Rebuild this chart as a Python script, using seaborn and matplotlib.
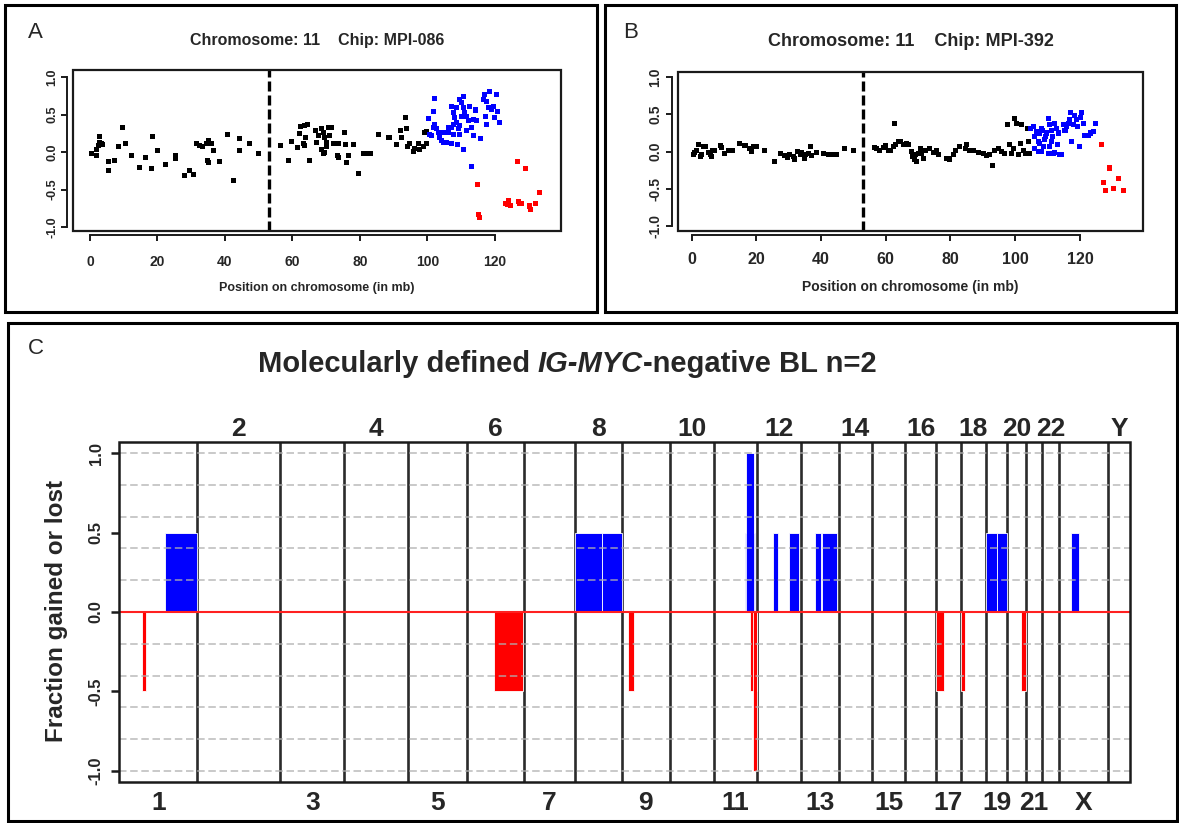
import matplotlib
matplotlib.use("Agg")
import matplotlib.pyplot as plt
import matplotlib.transforms as mtransforms
from matplotlib.patches import Rectangle
import numpy as np
import pandas as pd
import seaborn as sns

# ---------------- Panel A : chromosome 11, chip MPI-086 ----------------
a_neutral_pos = [0.5, 2.0, 2.5, 2.8, 3.3, 3.8, 2.7, 2.0, 5.6, 5.6,
                 7.4, 8.6, 9.6, 10.4, 12.3, 14.8, 16.6, 18.3, 18.6, 20.0,
                 22.4, 25.3, 25.3, 27.9, 29.4, 30.6, 31.6, 32.6, 33.4, 34.4,
                 35.1, 36.0, 36.5, 34.8, 35.1, 38.3, 40.8, 42.5, 44.4, 44.2,
                 47.2, 49.9, 56.5, 58.8, 59.8, 61.4, 62.2, 62.4, 63.7, 64.4,
                 64.0, 63.2, 63.7, 65.2, 66.7, 67.7, 67.2, 68.6, 69.1, 69.6,
                 70.1, 68.6, 69.6, 70.6, 71.6, 71.1, 70.1, 69.1, 72.1, 73.6,
                 73.3, 73.6, 75.4, 75.6, 75.9, 76.5, 78.0, 79.7, 81.0, 82.5,
                 83.2, 85.4, 88.4, 88.9, 90.9, 91.9, 92.3, 93.6, 93.8, 94.0,
                 94.8, 96.3, 96.0, 97.3, 97.8, 98.8, 99.6, 99.0, 99.8]
a_neutral_val = [-0.02, -0.04, 0.09, 0.13, 0.11, 0.10, 0.21, 0.04, -0.13, -0.24,
                 -0.11, 0.07, 0.33, 0.12, -0.04, -0.21, -0.07, -0.22, 0.21, 0.02,
                 -0.16, -0.08, -0.05, -0.31, -0.25, -0.30, 0.11, 0.09, 0.07, 0.11,
                 0.15, 0.12, 0.02, -0.11, -0.14, -0.13, 0.23, -0.38, 0.18, 0.02,
                 0.12, -0.02, 0.09, -0.11, 0.14, 0.06, 0.25, 0.34, 0.35, 0.37,
                 0.20, 0.11, 0.09, -0.11, 0.29, 0.22, 0.13, 0.31, 0.26, 0.20,
                 0.13, 0.04, 0.00, 0.33, 0.33, 0.22, 0.07, -0.02, 0.12, 0.12,
                 -0.04, -0.07, 0.26, 0.10, -0.14, -0.04, 0.10, -0.28, -0.02, -0.02,
                 -0.02, 0.23, 0.20, 0.19, 0.10, 0.29, 0.20, 0.46, 0.31, 0.07,
                 0.12, 0.05, 0.01, 0.12, 0.04, 0.08, 0.11, 0.26, 0.27]
a_gain_pos = [102.0, 101.7, 100.4, 102.1, 101.7, 102.7, 100.7, 101.2, 103.2, 103.7,
              104.2, 104.7, 105.7, 107.2, 109.0, 110.8, 106.2, 107.2, 107.7, 108.1,
              108.6, 109.1, 109.6, 107.7, 107.2, 109.6, 110.1, 110.6, 110.8, 111.1,
              111.6, 112.1, 111.6, 113.1, 113.8, 114.6, 114.4, 115.6, 113.6, 116.5,
              117.0, 117.5, 118.0, 118.5, 119.0, 119.5, 120.0, 120.5, 120.8, 121.5,
              117.3, 117.5, 113.1, 107.7, 108.6, 110.1, 106.2, 109.4, 104.7, 112.6,
              114.3]
a_gain_val = [0.71, 0.54, 0.45, 0.37, 0.33, 0.31, 0.24, 0.22, 0.26, 0.20,
              0.15, 0.13, 0.13, 0.11, 0.10, 0.04, 0.26, 0.33, 0.37, 0.46,
              0.39, 0.31, 0.24, 0.24, 0.61, 0.70, 0.66, 0.74, 0.59, 0.53,
              0.48, 0.42, 0.29, 0.33, 0.44, 0.42, 0.57, 0.18, 0.22, 0.70,
              0.77, 0.68, 0.59, 0.81, 0.57, 0.61, 0.46, 0.77, 0.54, 0.39,
              0.48, 0.37, -0.19, 0.53, 0.59, 0.48, 0.33, 0.35, 0.26, 0.61,
              0.55]
a_loss_pos = [114.9, 115.4, 123.2, 124.1, 124.7, 127.1, 127.9, 130.2, 130.6, 131.9,
              133.3, 126.6, 129.2, 123.7, 127.4, 115.2]
a_loss_val = [-0.43, -0.88, -0.68, -0.64, -0.71, -0.66, -0.68, -0.72, -0.77, -0.68,
              -0.54, -0.13, -0.22, -0.70, -0.69, -0.84]

# ---------------- Panel B : chromosome 11, chip MPI-392 ----------------
b_neutral_pos = [0.5, 1.0, 1.5, 2.1, 2.6, 3.1, 3.6, 4.3, 5.2, 5.7,
                 6.0, 6.4, 7.2, 8.8, 9.3, 10.3, 11.3, 12.6, 14.9, 16.5,
                 18.0, 18.5, 19.1, 20.1, 22.5, 25.5, 27.6, 28.8, 29.7, 30.4,
                 31.4, 31.9, 32.8, 33.5, 34.0, 34.8, 35.2, 36.1, 36.6, 37.1,
                 38.6, 40.7, 42.4, 43.8, 44.8, 47.4, 50.0, 56.4, 57.2, 58.2,
                 59.2, 60.0, 60.8, 61.6, 62.3, 62.6, 63.0, 63.9, 64.7, 65.4,
                 66.4, 67.0, 68.0, 68.5, 69.0, 69.5, 70.0, 70.6, 68.2, 69.2, 68.8,
                 71.1, 71.6, 72.4, 73.6, 74.7, 75.7, 76.2, 78.8, 79.8, 80.9,
                 81.7, 82.9, 84.5, 85.0, 86.0, 87.0, 88.6, 90.2, 91.2, 92.2,
                 93.0, 93.7, 94.8, 95.8, 96.8, 97.6, 98.4, 98.9, 99.4, 99.9,
                 100.4, 101.5, 101.0, 102.0, 102.5, 103.3, 104.0, 103.7, 104.4]
b_neutral_val = [-0.04, -0.01, 0.01, 0.09, -0.07, -0.04, 0.07, 0.07, -0.01, -0.04,
                 -0.07, 0.02, 0.02, 0.08, 0.05, -0.02, 0.02, 0.02, 0.11, 0.08,
                 0.04, 0.00, 0.07, 0.07, 0.01, -0.14, -0.02, -0.05, -0.08, -0.04,
                 -0.07, -0.10, 0.00, -0.04, -0.01, -0.09, -0.04, -0.02, 0.07, -0.05,
                 -0.01, -0.02, -0.04, -0.04, -0.04, 0.04, 0.02, 0.05, 0.04, 0.02,
                 0.05, 0.08, 0.02, 0.01, 0.07, 0.38, 0.10, 0.13, 0.13, 0.09,
                 0.11, 0.09, 0.00, -0.04, -0.09, -0.13, -0.02, 0.04, -0.07, -0.04, -0.11,
                 -0.02, -0.09, 0.01, 0.04, -0.01, 0.02, -0.04, -0.09, -0.10, -0.04,
                 0.01, 0.07, 0.04, 0.10, 0.02, 0.02, -0.01, -0.02, -0.05, -0.04,
                 -0.19, 0.02, 0.04, 0.00, -0.02, 0.37, 0.09, -0.02, 0.04, 0.45,
                 0.38, 0.11, -0.04, 0.37, 0.01, -0.02, 0.13, 0.31, -0.02]
b_gain_pos = [104.6, 105.6, 106.1, 106.6, 107.1, 107.1, 107.6, 108.2, 108.7, 109.2,
              109.7, 110.2, 110.5, 110.6, 111.2, 111.5, 111.8, 112.3, 112.8, 113.0,
              113.3, 113.8, 114.3, 114.8, 115.4, 115.9, 116.4, 116.9, 117.1, 117.4,
              117.9, 118.4, 118.9, 119.4, 119.8, 120.2, 120.5, 121.0, 121.5, 122.6,
              123.3, 124.1, 124.9, 106.1, 108.2, 110.2, 112.3, 107.6, 109.5, 111.1,
              108.5]
b_gain_val = [0.31, 0.34, 0.20, 0.27, 0.13, 0.00, 0.25, 0.31, 0.07, 0.16,
              0.25, 0.45, 0.36, 0.07, 0.29, 0.20, -0.02, 0.38, 0.31, 0.09,
              0.25, -0.04, -0.04, 0.36, 0.29, 0.34, 0.38, 0.43, 0.52, 0.14,
              0.37, 0.49, 0.43, 0.34, 0.07, 0.46, 0.52, 0.38, 0.22, 0.22,
              0.25, 0.27, 0.38, 0.04, 0.00, -0.02, -0.01, 0.11, 0.20, 0.14,
              0.28]
b_loss_pos = [126.8, 129.1, 131.9, 127.4, 127.8, 130.4, 133.4, 129.3]
b_loss_val = [0.09, -0.22, -0.36, -0.41, -0.53, -0.50, -0.53, -0.23]

centromere_mb = 53.0
pos_ticks = [0, 20, 40, 60, 80, 100, 120]
ratio_ticks = [1.0, 0.5, 0.0, -0.5, -1.0]
ratio_tick_labels = ["1.0", "0.5", "0.0", "-0.5", "-1.0"]

# ---------------- Panel C : genome-wide gains / losses ----------------
chrom_names = ["1", "2", "3", "4", "5", "6", "7", "8", "9", "10", "11", "12",
               "13", "14", "15", "16", "17", "18", "19", "20", "21", "22", "X", "Y"]
chrom_len_mb = [239, 252, 196, 193, 182, 171, 156, 144, 145, 134, 132, 134,
                115, 102, 101, 94, 75, 77, 65, 56, 50, 52, 150, 66]

gain_chrom = ["1", "8", "8", "11", "11", "12", "12", "13", "13", "19", "19", "X"]
gain_start = [140, 0, 83, 94.5, 99.6, 48.7, 96.3, 43.6, 63.4, 0, 32.5, 37.5]
gain_end = [239, 83, 144, 127, 121.9, 64.9, 129.8, 60.3, 111.5, 32.5, 65, 60]
gain_frac = [0.5, 0.5, 0.5, 0.5, 1.0, 0.5, 0.5, 0.5, 0.5, 0.5, 0.5, 0.5]

loss_chrom = ["1", "6", "9", "11", "11", "17", "18", "20"]
loss_start = [71, 81, 18, 109.7, 118.8, 0, 0, 42.7]
loss_end = [82, 169, 37.5, 132, 132, 24, 12, 56]
loss_frac = [-0.5, -0.5, -0.5, -0.5, -1.0, -0.5, -0.5, -0.5]

frac_ticks = [1.0, 0.5, 0.0, -0.5, -1.0]
frac_tick_labels = ["1.0", "0.5", "0.0", "-0.5", "-1.0"]
grid_levels = [1.0, 0.8, 0.6, 0.4, 0.2, -0.2, -0.4, -0.6, -0.8, -1.0]

# ---------------------------------------------------------------------
sns.set_style("white")
plt.rcParams["font.family"] = ["Liberation Sans", "DejaVu Sans"]

W, H = 1179, 823
fig = plt.figure(figsize=(W / 100, H / 100), dpi=100)
fig.patch.set_facecolor("white")


def px_axes(x0, y0, x1, y1):
    return fig.add_axes([x0 / W, 1 - y1 / H, (x1 - x0) / W, (y1 - y0) / H])


def fig_box(x0, y0, x1, y1, lw=2.2):
    fig.add_artist(Rectangle((x0 / W, 1 - y1 / H), (x1 - x0) / W, (y1 - y0) / H,
                             transform=fig.transFigure, fill=False, lw=lw,
                             ec="black", zorder=10))


def ftext(x, y, s, **kw):
    return fig.text(x / W, 1 - y / H, s, **kw)


palette = {"neutral": "black", "gain": "#0000ff", "loss": "#ff0000"}


def make_df(npos, nval, gpos, gval, lpos, lval):
    return pd.concat([
        pd.DataFrame({"pos": npos, "val": nval, "status": "neutral"}),
        pd.DataFrame({"pos": gpos, "val": gval, "status": "gain"}),
        pd.DataFrame({"pos": lpos, "val": lval, "status": "loss"}),
    ], ignore_index=True)


def chrom_panel(ax, df, xlim, ylim, fs_x, fs_y, xpad, ypad):
    sns.scatterplot(data=df, x="pos", y="val", hue="status", palette=palette,
                    marker="s", s=13, linewidth=0, legend=False, ax=ax, zorder=3)
    ax.axvline(centromere_mb, color="black", lw=2.4, linestyle=(0, (3, 1.2)), zorder=2)
    ax.set_xlim(xlim)
    ax.set_ylim(ylim)
    ax.set_xlabel("")
    ax.set_ylabel("")
    for side in ["top", "right"]:
        ax.spines[side].set_visible(False)
    ax.spines["left"].set_position(("outward", 4))
    ax.spines["left"].set_bounds(-1, 1)
    ax.spines["bottom"].set_position(("outward", 3))
    ax.spines["bottom"].set_bounds(0, 120)
    for side in ["left", "bottom"]:
        ax.spines[side].set_linewidth(1.4)
        ax.spines[side].set_color("#1a1a1a")
    ax.add_patch(Rectangle((0, 0), 1, 1, transform=ax.transAxes, fill=False,
                           lw=1.6, ec="#1a1a1a", clip_on=False, zorder=5))
    ax.set_xticks(pos_ticks)
    ax.set_xticklabels([str(t) for t in pos_ticks], fontweight="bold", fontsize=fs_x)
    ax.set_yticks(ratio_ticks)
    ax.set_yticklabels(ratio_tick_labels, rotation=90, va="center",
                       fontweight="bold", fontsize=fs_y)
    ax.tick_params(axis="both", direction="out", length=4, width=1.4, color="#1a1a1a",
                   left=True, bottom=True)
    ax.tick_params(axis="x", pad=xpad)
    ax.tick_params(axis="y", pad=ypad)


# Panel A
axA = px_axes(72.7, 70, 560.7, 230.7)
dfA = make_df(a_neutral_pos, a_neutral_val, a_gain_pos, a_gain_val, a_loss_pos, a_loss_val)
chrom_panel(axA, dfA, (-5.1, 139.5), (-1.05, 1.097), 10, 9, 10.5, 2.5)
ftext(316.7, 41, "Chromosome: 11    Chip: MPI-086", ha="center", va="center",
      fontsize=11.5, fontweight="bold")
ftext(316.7, 288, "Position on chromosome (in mb)", ha="center", va="center",
      fontsize=9, fontweight="bold")
ftext(35, 32, "A", ha="center", va="center", fontsize=16)

# Panel B
axB = px_axes(677.7, 71.7, 1143.3, 230.7)
dfB = make_df(b_neutral_pos, b_neutral_val, b_gain_pos, b_gain_val, b_loss_pos, b_loss_val)
chrom_panel(axB, dfB, (-4.3, 139.6), (-1.065, 1.075), 11.5, 10, 8, 3)
ftext(910.5, 42, "Chromosome: 11    Chip: MPI-392", ha="center", va="center",
      fontsize=13, fontweight="bold")
ftext(910.5, 287, "Position on chromosome (in mb)", ha="center", va="center",
      fontsize=10, fontweight="bold")
ftext(631, 32, "B", ha="center", va="center", fontsize=16)

# Panel C
axC = px_axes(119, 441.7, 1130, 782.3)
starts = np.concatenate([[0], np.cumsum(chrom_len_mb)[:-1]])
offset = dict(zip(chrom_names, starts))
total = float(np.sum(chrom_len_mb))

# gridlines
for g in grid_levels:
    axC.axhline(g, color="#b0b0b0", lw=1.2, linestyle=(0, (4.5, 2.2)), alpha=0.8, zorder=6)
# chromosome boundaries
axC.vlines(starts[1:], -1.1, 1.1, color="#2b2b2b", lw=1.9, zorder=2)
# gains and losses
g_left = [offset[c] + s for c, s in zip(gain_chrom, gain_start)]
g_width = [e - s for s, e in zip(gain_start, gain_end)]
axC.bar(g_left, gain_frac, width=g_width, align="edge", color="#0000ff",
        edgecolor="white", linewidth=0.6, zorder=3)
l_left = [offset[c] + s for c, s in zip(loss_chrom, loss_start)]
l_width = [e - s for s, e in zip(loss_start, loss_end)]
axC.bar(l_left, loss_frac, width=l_width, align="edge", color="#ff0000",
        edgecolor="white", linewidth=0.6, zorder=3)
axC.axhline(0, color="#ff2020", lw=1.5, zorder=4)

axC.set_xlim(0, total)
axC.set_ylim(-1.072, 1.072)
for side in ["top", "right", "bottom", "left"]:
    axC.spines[side].set_visible(False)
axC.add_patch(Rectangle((0, 0), 1, 1, transform=axC.transAxes, fill=False,
                        lw=1.8, ec="#1a1a1a", clip_on=False, zorder=7))
axC.set_xticks([])
axC.set_yticks(frac_ticks)
axC.set_yticklabels(frac_tick_labels, rotation=90, va="center", fontweight="bold",
                    fontsize=12)
axC.tick_params(axis="y", direction="out", length=6, width=1.8, color="#1a1a1a",
                left=True, pad=5)

centers = starts + np.array(chrom_len_mb) / 2.0
tr_top = mtransforms.blended_transform_factory(axC.transData, fig.transFigure)
for i, (name, cx) in enumerate(zip(chrom_names, centers)):
    if i % 2 == 1:
        axC.text(cx, 1 - 436 / H, name, transform=tr_top, ha="center", va="baseline",
                 fontsize=19, fontweight="bold")
    else:
        axC.text(cx, 1 - 810 / H, name, transform=tr_top, ha="center", va="baseline",
                 fontsize=19, fontweight="bold")

ftext(57, 611, "Fraction gained or lost", rotation=90, ha="center", va="center",
      fontsize=17.5, fontweight="bold")
ftext(36, 348, "C", ha="center", va="center", fontsize=16)

# title with italic gene names
renderer = fig.canvas.get_renderer()
parts = [("Molecularly defined ", "normal"), ("IG-MYC", "italic"), ("-negative BL n=2", "normal")]
tobjs = [ftext(0, 371.7, s, fontsize=21, fontweight="bold", style=st, ha="left",
               va="baseline") for s, st in parts]
widths = [t.get_window_extent(renderer).width for t in tobjs]
x = 567 - sum(widths) / 2
for t, w in zip(tobjs, widths):
    t.set_position((x / W, 1 - 371.7 / H))
    x += w

# panel frames
fig_box(5, 5, 597, 312)
fig_box(605, 5, 1176, 312)
fig_box(8, 323, 1177, 821)

fig.savefig("out.png", dpi=100, facecolor="white")
